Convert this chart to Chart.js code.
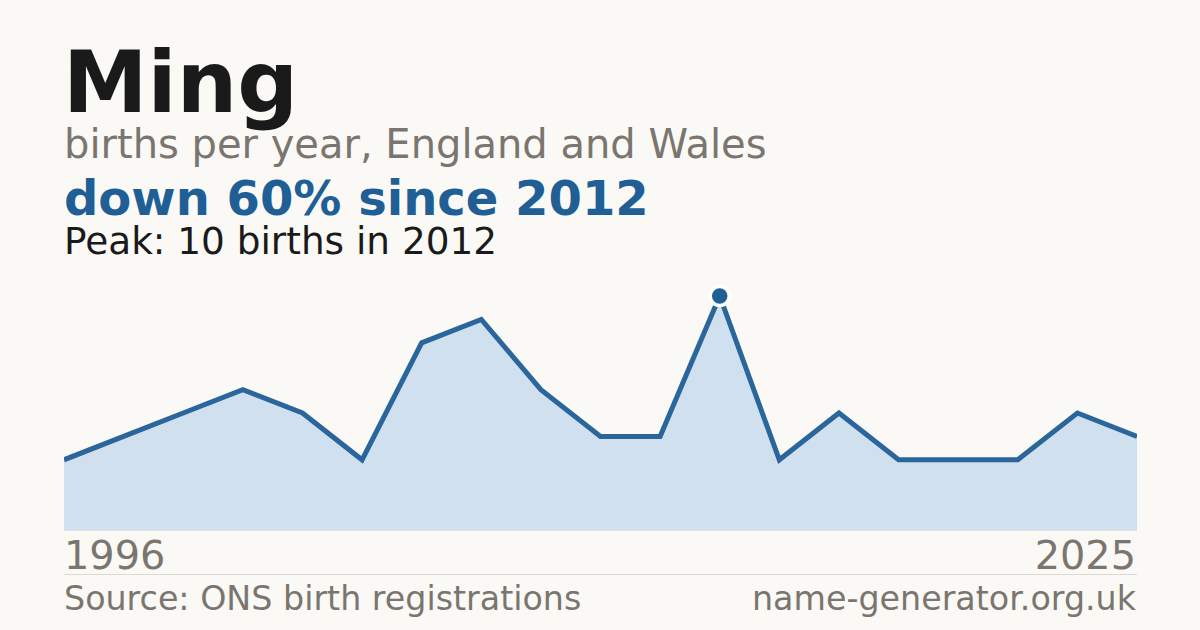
<!DOCTYPE html>
<html>
<head>
<meta charset="utf-8">
<script src="https://cdn.jsdelivr.net/npm/chart.js@4/dist/chart.umd.min.js"></script>
<style>
  html, body { margin:0; padding:0; background:#faf9f5; }
  body { width:1200px; height:630px; position:relative; overflow:hidden; font-family:"DejaVu Sans", sans-serif; }
  .t { position:absolute; line-height:1; white-space:nowrap; margin:0; }
  #title { left:63px; top:40px; font-size:85px; font-weight:bold; color:#1a1a1a; }
  #sub { left:64px; top:124px; font-size:40px; color:#7a766f; }
  #change { left:64px; top:174px; font-size:48px; font-weight:bold; color:#1f5f96; }
  #peak { left:64px; top:223px; font-size:37.4px; color:#1a1a1a; }
  #yStart { left:64px; top:536px; font-size:39.8px; color:#7a766f; }
  #yEnd { right:64px; top:536px; font-size:39.8px; color:#7a766f; }
  #sep { position:absolute; left:64px; width:1073px; top:574px; height:1px; background:#dcd9d3; }
  #src { left:64px; top:582px; font-size:33.3px; color:#7a766f; }
  #site { right:64px; top:582px; font-size:33.3px; color:#7a766f; }
  #wrap { position:absolute; left:64px; top:280px; width:1073px; height:251px; }
</style>
</head>
<body>
<div class="t" id="title">Ming</div>
<div class="t" id="sub">births per year, England and Wales</div>
<div class="t" id="change">down 60% since 2012</div>
<div class="t" id="peak">Peak: 10 births in 2012</div>
<div id="wrap"><canvas id="c"></canvas></div>
<div class="t" id="yStart">1996</div>
<div class="t" id="yEnd">2025</div>
<div id="sep"></div>
<div class="t" id="src">Source: ONS birth registrations</div>
<div class="t" id="site">name-generator.org.uk</div>
<script>
const years = ["1996","1997","1998","1999","2001","2002","2004","2005","2007","2008","2010","2012","2014","2016","2018","2020","2022","2024","2025"];
const births = [3,4,5,6,5,3,8,9,6,4,4,10,3,5,3,3,3,5,4];
const peakYear = "2012";

const peakIdx = years.indexOf(peakYear);
const radii = births.map((v,i)=> i===peakIdx ? 9.5 : 0);

const baseline = {
  id:'baseline',
  beforeDatasetsDraw(chart){
    const {ctx, chartArea} = chart;
    ctx.save();
    ctx.fillStyle = '#e6e0d9';
    ctx.fillRect(chartArea.left, chartArea.bottom, chartArea.right-chartArea.left, 1);
    ctx.restore();
  }
};

new Chart(document.getElementById('c'), {
  type:'line',
  data:{
    labels: years,
    datasets:[{
      data: births,
      borderColor:'#2a659b',
      borderWidth:5,
      backgroundColor:'#d0e0ef',
      fill:'origin',
      tension:0,
      borderJoinStyle:'miter',
      pointRadius: radii,
      pointHoverRadius: radii,
      pointBackgroundColor:'#1f5f96',
      pointBorderColor:'#ffffff',
      pointBorderWidth:3.5,
      clip:false
    }]
  },
  options:{
    responsive:true,
    maintainAspectRatio:false,
    animation:false,
    devicePixelRatio:1,
    layout:{ padding:{ top:16, left:0, right:0, bottom:1 } },
    plugins:{ legend:{display:false}, tooltip:{enabled:false} },
    scales:{
      x:{ display:false, offset:false },
      y:{ display:false, min:0, max:10 }
    }
  },
  plugins:[baseline]
});
</script>
</body>
</html>
